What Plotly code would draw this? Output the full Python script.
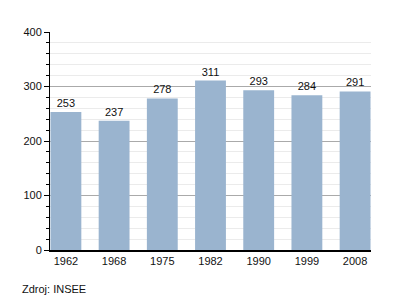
import plotly.graph_objects as go

years = ["1962", "1968", "1975", "1982", "1990", "1999", "2008"]
population = [253, 237, 278, 311, 293, 284, 291]
y_ticks = [0, 100, 200, 300, 400]
source_text = "Zdroj: INSEE"

fig = go.Figure(go.Bar(
    x=years, y=population,
    marker=dict(color="#9ab4cf", line=dict(width=0)),
    text=[str(v) for v in population], textposition="outside",
    textfont=dict(family="Liberation Sans, Arial", size=11, color="#111"),
    cliponaxis=False,
))

fig.update_layout(
    width=400, height=300,
    margin=dict(l=50, r=29, t=32, b=50),
    paper_bgcolor="white", plot_bgcolor="white",
    bargap=0.36, showlegend=False,
    font=dict(family="Liberation Sans, Arial", size=11, color="#111"),
    xaxis=dict(type="category", range=[-0.33, 6.33], showline=True,
               linecolor="black", linewidth=1.5,
               ticks="", showgrid=False, tickfont=dict(size=11)),
    yaxis=dict(range=[0, 400], tickvals=y_ticks, showline=True, linecolor="black",
               linewidth=1, ticks="outside", ticklen=5, tickcolor="black",
               showgrid=True, gridcolor="#aaaaaa", gridwidth=1, zeroline=False,
               minor=dict(dtick=20, showgrid=True, gridcolor="#ebebeb",
                          ticks="outside", ticklen=3, tickcolor="black"),
               tickfont=dict(size=11)),
    annotations=[dict(text=source_text, xref="paper", yref="paper",
                      x=(20 - 50) / 321, y=-(289 - 250) / 218,
                      xanchor="left", yanchor="middle", showarrow=False)],
)
fig.write_html("out.html")
